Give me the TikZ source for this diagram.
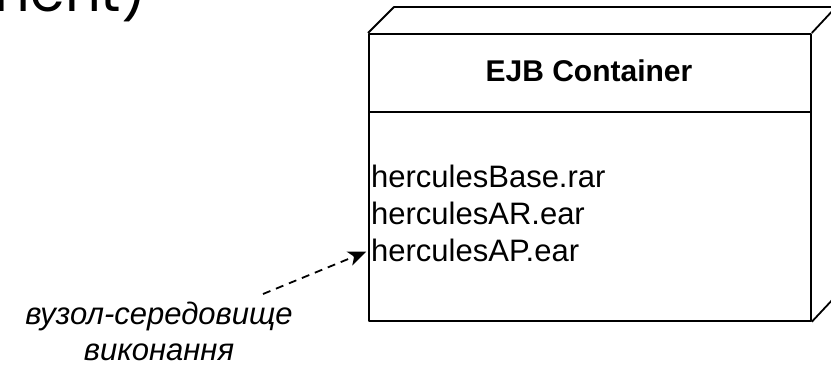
\documentclass[tikz,border=0pt]{standalone}
\usepackage{fontspec}
\setmainfont{Liberation Sans}
\newfontfamily\titlefont{Poppins}
\usetikzlibrary{arrows.meta,positioning}

\tikzset{
  edge/.style={line width=1.8pt,line join=round},
  artifact/.style={anchor=base west,inner xsep=3pt,inner ysep=0pt,font=\fontsize{31}{36}\selectfont},
}

\begin{document}
\begin{tikzpicture}[x=1pt,y=-1pt]
  \useasboundingbox (0,0) rectangle (831,366);
  \clip (0,0) rectangle (831,366);
  % cut-off slide title
  \node[anchor=base east,inner sep=0,font=\titlefont\fontsize{56}{60}\selectfont] (title) at (147,12) {ment)};
  % execution environment node
  \node[draw,edge,anchor=north west,inner sep=0,minimum width=442pt,minimum height=287pt] (ejb) at (368,33) {};
  \draw[edge] (ejb.north west) -- ++(26,-26) -- ++(442,0) -- (ejb.north east);
  \draw[edge] (ejb.north east) ++(26,-26) -- ++(0,287) -- (ejb.south east);
  \draw[edge] (ejb.north west) ++(0,79) -- ++(442,0);
  \node[anchor=base,font=\bfseries\fontsize{30}{34}\selectfont] (hdr) at (589,82) {EJB Container};
  \node[artifact] (base) at (368,188) {herculesBase.rar};
  \node[artifact] (ar) at (368,225) {herculesAR.ear};
  \node[artifact] (ap) at (368,262) {herculesAP.ear};
  % note
  \node[align=center,inner sep=0,font=\itshape\fontsize{31}{36}\selectfont] (note) at (159,331) {вузол-середовище\\виконання};
  \coordinate (from) at (263,294);
  \draw[edge,dash pattern=on 8pt off 6pt,-{Stealth[length=18pt,width=15pt,inset=5pt]},shorten >=2pt] (from) -- (ap.west);
\end{tikzpicture}
\end{document}
